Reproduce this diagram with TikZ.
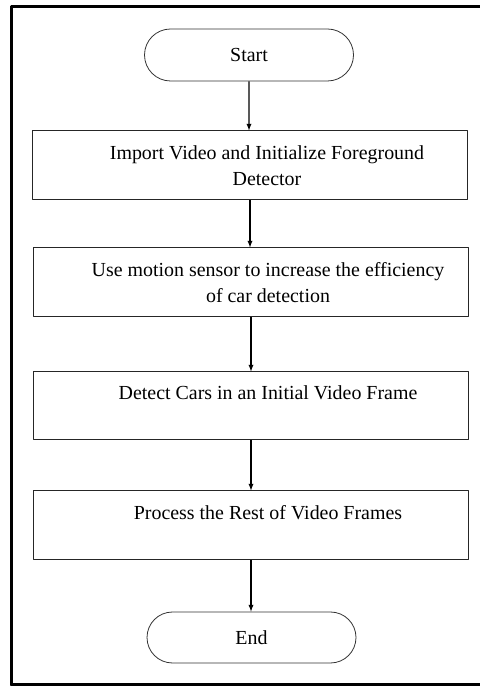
\documentclass[tikz,border=0pt]{standalone}
\usepackage{fontspec}
\setmainfont{Liberation Serif}
\usetikzlibrary{shapes.misc}
\tikzset{
  terminal/.style={draw=black!80,line width=0.8bp,rounded rectangle,minimum width=209bp,minimum height=52bp,inner sep=0pt},
  stepbox/.style={draw=black!85,line width=1bp,rectangle,minimum width=435bp,minimum height=69bp,align=center,inner sep=0pt},
  flow/.style={black,line width=1.3bp,->},
}
\newcommand{\ind}{\hspace*{34bp}}
\begin{document}
\begin{tikzpicture}[>=latex,line join=bevel,font=\fontsize{20}{26}\selectfont]
%%
\useasboundingbox (0bp,0bp) rectangle (480bp,686bp);
\begin{scope}
  \clip (0bp,0bp) rectangle (480bp,686bp);
  \draw [line width=3bp] (11bp,1bp) rectangle (490bp,679.5bp);
\end{scope}
%%
\node (node_start) at (249bp,631bp) [terminal] {Start};
  \node (node_import) at (250bp,520.5bp) [stepbox] {\ind Import Video and Initialize Foreground\\\ind Detector};
  \node (node_sensor) at (251bp,403.5bp) [stepbox] {\ind Use motion sensor to increase the efficiency\\\ind of car detection};
  \node (node_detect) at (251bp,280bp) [stepbox,minimum height=68bp] {\ind Detect Cars in an Initial Video Frame\\\mbox{}};
  \node (node_process) at (251bp,160.5bp) [stepbox] {\ind Process the Rest of Video Frames\\\mbox{}};
  \node (node_end) at (251.5bp,48.5bp) [terminal,minimum height=51bp] {End};
  \draw [flow] (node_start) -- (node_start |- node_import.north);
  \draw [flow] (node_import) -- (node_import |- node_sensor.north);
  \draw [flow] (node_sensor) -- (node_sensor |- node_detect.north);
  \draw [flow] (node_detect) -- (node_detect |- node_process.north);
  \draw [flow] (node_process) -- (node_process |- node_end.north);
%
\end{tikzpicture}
\end{document}
